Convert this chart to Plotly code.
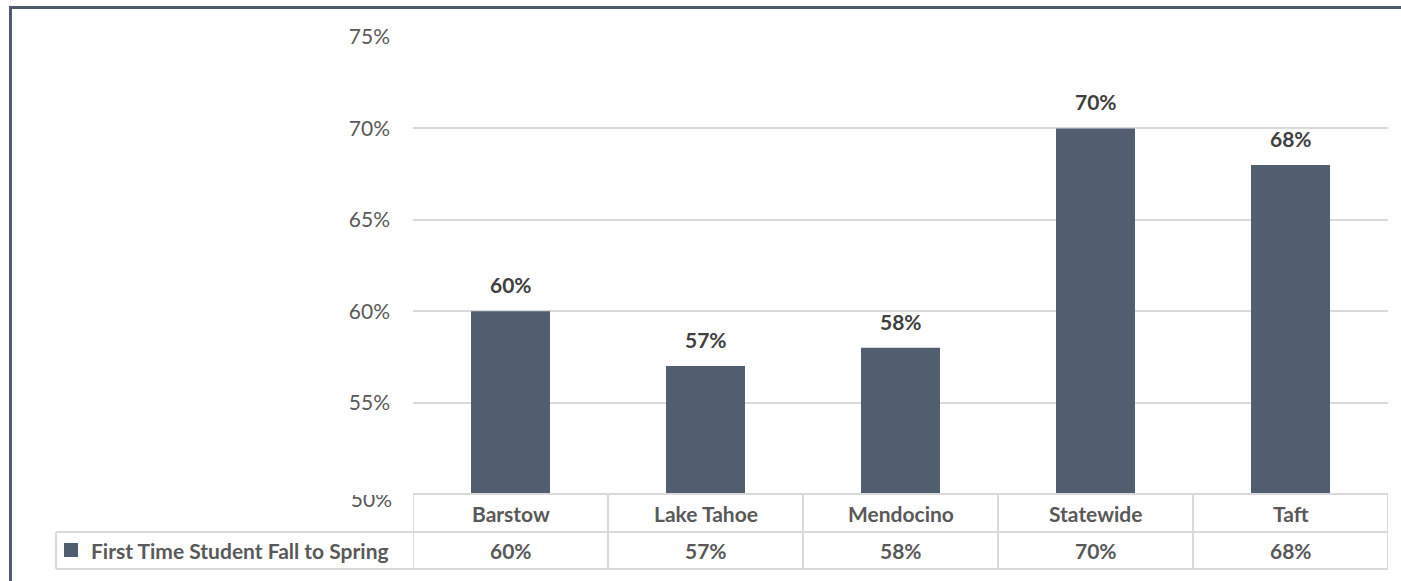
import plotly.graph_objects as go

categories = ["Barstow", "Lake Tahoe", "Mendocino", "Statewide", "Taft"]
values = [0.60, 0.57, 0.58, 0.70, 0.68]
series_name = "First Time Student Fall to Spring"
y_ticks = [0.55, 0.60, 0.65, 0.70, 0.75]
y_base_tick = [0.50]

W, H = 1401, 581
def px(x):
    return x / W
def py(y):
    return 1 - y / H

BAR = "#515e70"
GRID = "#d9d9d9"
TXT = "#404040"
TICK = "#595959"
FONT = "Lato"

plot_left, plot_right = 413, 1388
plot_top, plot_bottom = 37, 494
row1_bottom = 532
row2_bottom = 569

fig = go.Figure()
fig.add_trace(go.Bar(
    x=categories, y=values, marker=dict(color=BAR, line=dict(width=0)),
    name=series_name, showlegend=False, hoverinfo="x+y",
))
# invisible trace to carry the secondary axis (for the offset 50% label)
fig.add_trace(go.Scatter(x=[categories[0]], y=[None], yaxis="y2", showlegend=False,
                         hoverinfo="skip", mode="markers"))

annotations = []
for c, v in zip(categories, values):
    annotations.append(dict(
        x=c, y=v, xref="x", yref="y", text=f"<b>{round(v*100)}%</b>",
        showarrow=False, yanchor="bottom", yshift=12,
        font=dict(family=FONT, size=21, color=TXT),
    ))
for c, v in zip(categories, values):
    annotations.append(dict(
        x=c, y=py((plot_bottom + row1_bottom) / 2), xref="x", yref="paper",
        text=f"<b>{c}</b>", showarrow=False, yanchor="middle",
        font=dict(family=FONT, size=21, color=TICK),
    ))
    annotations.append(dict(
        x=c, y=py((row1_bottom + row2_bottom) / 2), xref="x", yref="paper",
        text=f"<b>{round(v*100)}%</b>", showarrow=False, yanchor="middle",
        font=dict(family=FONT, size=21, color=TICK),
    ))
annotations.append(dict(
    x=px(89), y=py((row1_bottom + row2_bottom) / 2), xref="paper", yref="paper",
    text=f"<b>{series_name}</b>", showarrow=False, xanchor="left", yanchor="middle",
    font=dict(family=FONT, size=21, color=TICK),
))

shapes = []
lw = 2
# white mask clipping the top of the 50% label (as in the original)
shapes.append(dict(type="rect", xref="paper", yref="paper", layer="above",
                   x0=px(330), x1=px(405), y0=py(495), y1=py(475),
                   fillcolor="white", line=dict(width=0)))
shapes.append(dict(type="line", xref="paper", yref="paper",
                   x0=px(plot_left), x1=px(plot_right), y0=py(plot_bottom), y1=py(plot_bottom),
                   line=dict(color=GRID, width=lw)))
shapes.append(dict(type="line", xref="paper", yref="paper",
                   x0=px(56), x1=px(plot_right), y0=py(row1_bottom), y1=py(row1_bottom),
                   line=dict(color=GRID, width=lw)))
shapes.append(dict(type="line", xref="paper", yref="paper",
                   x0=px(56), x1=px(plot_right), y0=py(row2_bottom), y1=py(row2_bottom),
                   line=dict(color=GRID, width=lw)))
shapes.append(dict(type="line", xref="paper", yref="paper",
                   x0=px(56), x1=px(56), y0=py(row1_bottom), y1=py(row2_bottom),
                   line=dict(color=GRID, width=lw)))
for k in range(len(categories) + 1):
    shapes.append(dict(type="line", xref="x", yref="paper",
                       x0=k - 0.5, x1=k - 0.5, y0=py(plot_bottom), y1=py(row2_bottom),
                       line=dict(color=GRID, width=lw)))
shapes.append(dict(type="rect", xref="paper", yref="paper",
                   x0=px(64), x1=px(78), y0=py(557), y1=py(543),
                   fillcolor=BAR, line=dict(width=0)))
shapes.append(dict(type="rect", xref="paper", yref="paper",
                   x0=px(10.5), x1=1.05, y0=-0.05, y1=py(7.5),
                   fillcolor="rgba(0,0,0,0)", line=dict(color="#505c6e", width=3)))

tickfont = dict(family=FONT, size=21, color=TICK)
fig.update_layout(
    width=W, height=H,
    margin=dict(l=0, r=0, t=0, b=0, autoexpand=False),
    paper_bgcolor="white", plot_bgcolor="white",
    bargap=0.595,
    font=dict(family=FONT),
    xaxis=dict(domain=[px(plot_left), px(plot_right)], showticklabels=False,
               showgrid=False, zeroline=False, showline=False, ticks="",
               automargin=False, fixedrange=True,
               range=[-0.5, len(categories) - 0.5]),
    yaxis=dict(domain=[py(plot_bottom), py(plot_top)], range=[0.5, 0.75],
               tickvals=y_ticks, tickformat=".0%", tickfont=tickfont,
               showgrid=True, gridcolor=GRID, gridwidth=1.5,
               zeroline=False, showline=False, ticks="", automargin=False,
               ticklabelstandoff=22, fixedrange=True),
    yaxis2=dict(overlaying="y", side="left", range=[0.5, 0.75],
                tickvals=y_base_tick, tickformat=".0%", tickfont=tickfont,
                showgrid=False, zeroline=False, showline=False, ticks="",
                automargin=False, ticklabelstandoff=20, ticklabelshift=6,
                fixedrange=True),
    annotations=annotations,
    shapes=shapes,
)

fig.write_html("out.html", config={"displayModeBar": False},
               post_script="document.body.style.margin='0';document.body.style.overflow='hidden';")
